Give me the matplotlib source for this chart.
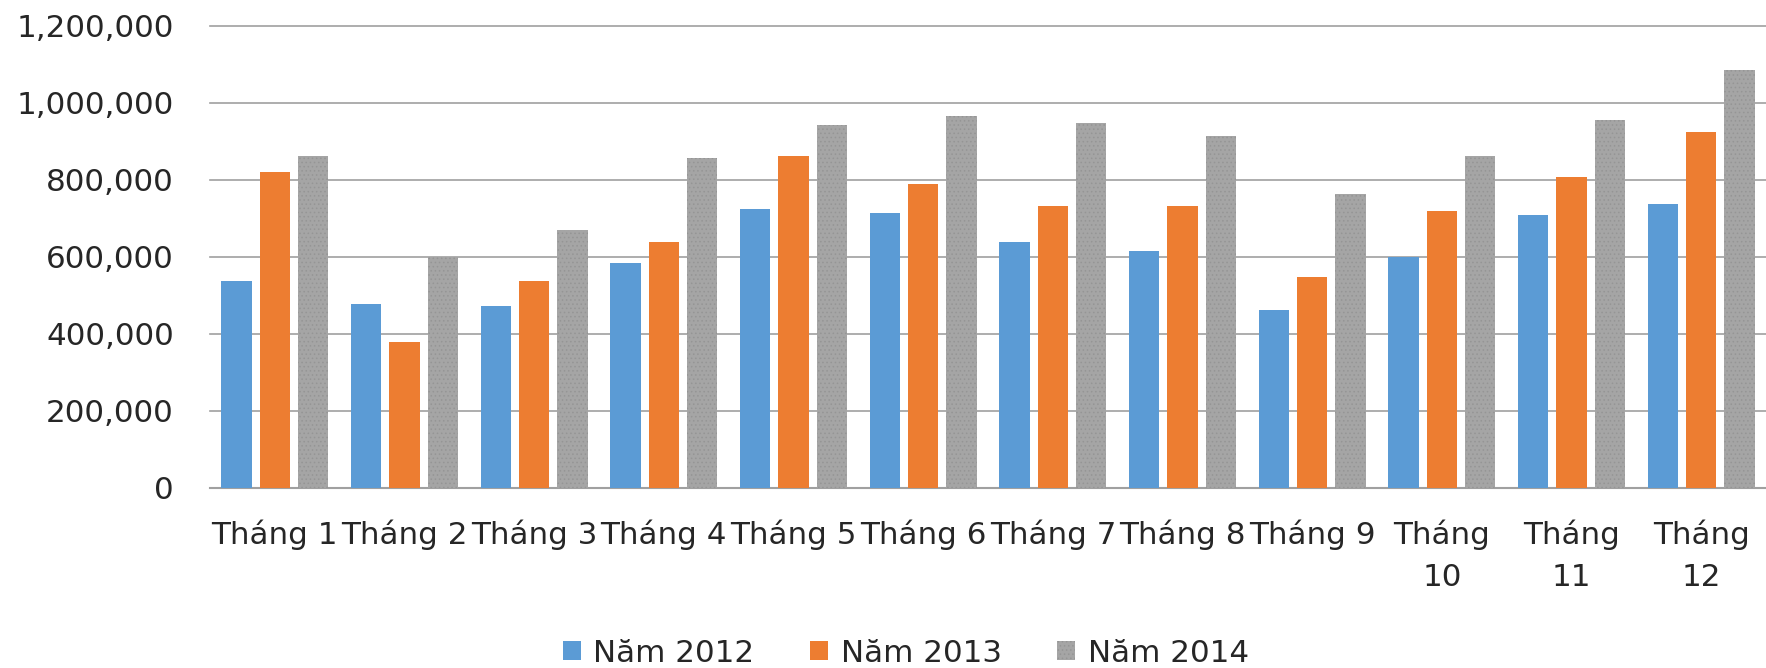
import matplotlib.pyplot as plt
import numpy as np

months = ["Tháng 1", "Tháng 2", "Tháng 3", "Tháng 4", "Tháng 5", "Tháng 6",
          "Tháng 7", "Tháng 8", "Tháng 9", "Tháng 10", "Tháng 11", "Tháng 12"]
series_names = ["Năm 2012", "Năm 2013", "Năm 2014"]
y2012 = [538000, 476000, 472000, 583000, 723000, 714000,
         637000, 616000, 462000, 599000, 708000, 736000]
y2013 = [821000, 378000, 538000, 637000, 862000, 790000,
         731000, 731000, 548000, 718000, 808000, 924000]
y2014 = [862000, 600000, 669000, 857000, 942000, 965000,
         946000, 914000, 763000, 862000, 956000, 1086000]
colors = ["#5B9BD5", "#ED7D31", "#A5A5A5"]

plt.rcParams['font.family'] = ['DejaVu Sans']
plt.rcParams['hatch.linewidth'] = 0.6
fs = 22.3
txt = "#262626"

fig = plt.figure(figsize=(17.66, 6.68), dpi=100)
ax = fig.add_axes([210/1766, 1-487.7/668, 1-210/1766, (487.7-25.7)/668])

x = np.arange(len(months))
w = 0.2355
step = 0.296
data = [y2012, y2013, y2014]
for k in range(3):
    if k == 2:
        ax.bar(x + (k-1)*step, data[k], w, color=colors[k], edgecolor="#959595",
               linewidth=0, hatch="....", label=series_names[k], zorder=3)
    else:
        ax.bar(x + (k-1)*step, data[k], w, color=colors[k], linewidth=0,
               label=series_names[k], zorder=3)

ax.set_xlim(-0.5, 11.5)
ax.set_ylim(0, 1200000)
ax.set_yticks(np.arange(0, 1200001, 200000))
ax.yaxis.set_major_formatter(plt.matplotlib.ticker.StrMethodFormatter('{x:,.0f}'))
ax.grid(axis='y', color="#A0A0A0", linewidth=1.2, zorder=0)
for gl in ax.get_ygridlines():
    gl.set_clip_on(False)
for s in ['top', 'right', 'left']:
    ax.spines[s].set_visible(False)
ax.spines['bottom'].set_color("#A0A0A0")
ax.spines['bottom'].set_linewidth(1.5)

labels = [m if len(m) <= 7 else m.replace(" ", "\n") for m in months]
ax.set_xticks(x)
ax.set_xticklabels(labels)
ax.tick_params(axis='x', length=0, pad=23, labelsize=fs, labelcolor=txt)
ax.tick_params(axis='y', length=0, pad=26, labelsize=fs, labelcolor=txt)
for t in ax.get_xticklabels():
    t.set_linespacing(1.55)

leg = fig.legend(loc='center', bbox_to_anchor=(906/1766, 1-653/668), ncol=3,
                 frameon=False, fontsize=fs, handlelength=0.58, handleheight=0.58,
                 handletextpad=0.4, columnspacing=1.8, labelcolor=txt,
                 borderpad=0, borderaxespad=0)

fig.savefig("out.png", dpi=100)
